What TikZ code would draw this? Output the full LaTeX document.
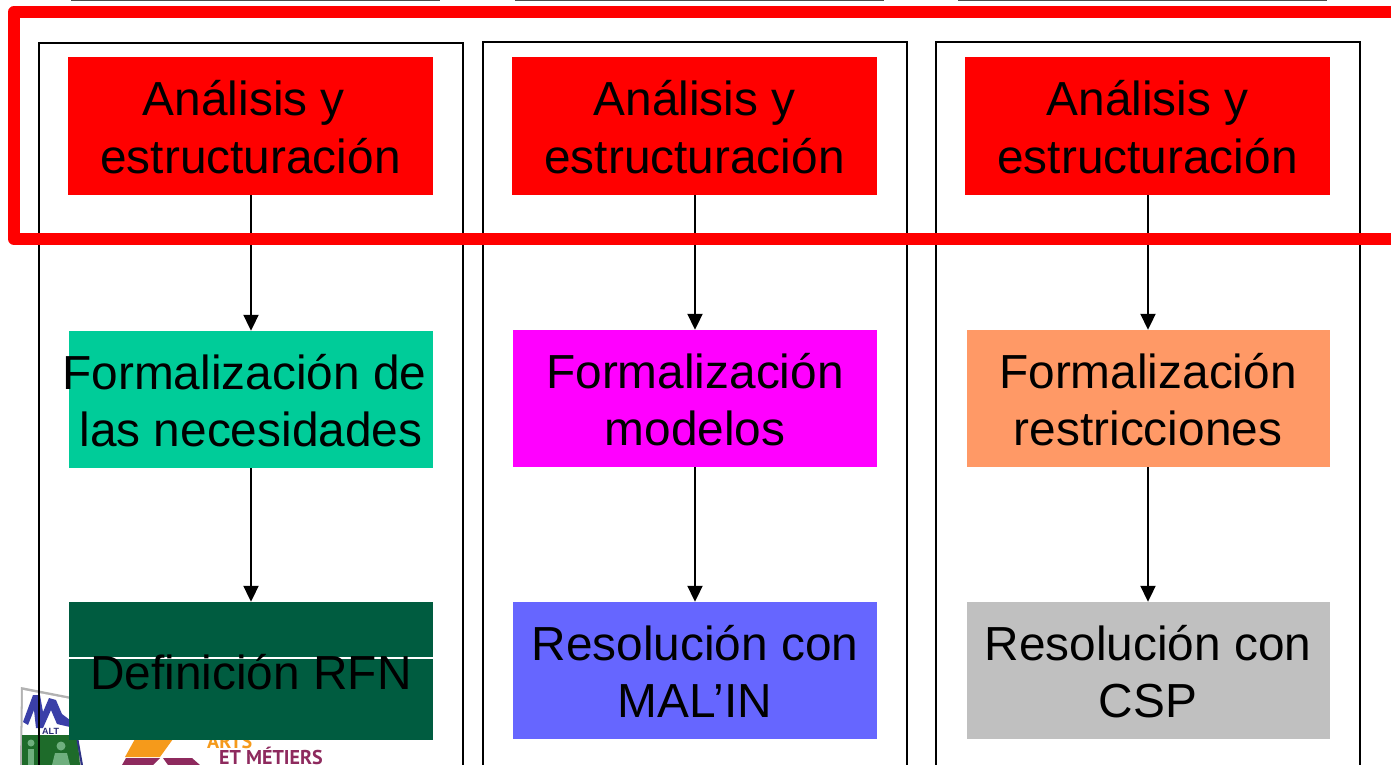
\documentclass[tikz,border=0pt]{standalone}
\usepackage{fontspec}
\setmainfont{Liberation Sans}
\newfontfamily\logofont{PT Sans}
\usetikzlibrary{arrows.meta}
\definecolor{cteal}{HTML}{00CC99}
\definecolor{cmag}{HTML}{FF00FF}
\definecolor{corange}{HTML}{FF9966}
\definecolor{cdark}{HTML}{005C40}
\definecolor{cblue}{HTML}{6666FF}
\definecolor{cgray}{HTML}{C0C0C0}
\definecolor{logoorange}{HTML}{F59A1B}
\definecolor{logopurple}{HTML}{8E2A5E}
\definecolor{logoblue}{HTML}{3A3FA8}
\definecolor{logogreen}{HTML}{1E6B2A}
\definecolor{logolight}{HTML}{6FAF7E}
\newcommand{\stext}[1]{\makebox[0pt][c]{\raisebox{-7pt}[\height][\depth]{\begin{tabular}{@{}c@{}}#1\end{tabular}}}}
\tikzset{
  x=1pt,y=-1pt,
  stagebox/.style={draw=none,inner sep=0pt,minimum width=#1,minimum height=138pt,
    font=\fontsize{47.8pt}{57.6pt}\selectfont,text=black},
  stagebox/.default=365pt,
  lowbox/.style={minimum height=137pt},
  flow/.style={draw=black,line width=2pt,-{Triangle[length=16pt,width=15pt]}},
  frameline/.style={draw=black,line width=1.8pt},
  topline/.style={draw=black!70,line width=1.8pt},
  logotext/.style={inner sep=0pt,anchor=base west,font=\logofont\bfseries\fontsize{20pt}{20pt}\selectfont},
}
\begin{document}
\begin{tikzpicture}
\useasboundingbox (0,0) rectangle (1391,765);
\fill[white] (0,0) rectangle (1391,765);
% top rules
\draw[topline] (71,0) -- (440,0);
\draw[topline] (515,0) -- (884,0);
\draw[topline] (958,0) -- (1327,0);
% left logo
\fill[black!30] (21,687) -- (72,697) -- (82,765) -- (20,765) -- cycle;
\fill[white] (23,690) -- (70,699) -- (80,765) -- (22,765) -- cycle;
\fill[logoblue] (23,722) -- (33,695) -- (40,695) -- (43,712) -- (49,698) -- (56,700) -- (62,714) -- (70,720) -- (70,727) -- (57,724) -- (51,710) -- (43,728) -- (36,728) -- (34,710) -- (28,725) -- cycle;
\fill[logogreen] (22,735) -- (77,735) -- (80,765) -- (22,765) -- cycle;
\draw[logoblue!80!black,line width=2pt] (77,737) -- (82,765);
\node[inner sep=0pt,anchor=base west,text=logoblue!70!black,font=\bfseries\fontsize{9pt}{9pt}\selectfont] (maltext) at (42,734) {ALT};
\fill[logolight] (31,743) circle (3.5pt);
\fill[logolight] (28,749) rectangle (34,765);
\fill[logolight] (61,746) circle (4.5pt);
\fill[logolight] (55,753) -- (67,753) -- (70,765) -- (52,765) -- cycle;
% right logo
\fill[logoorange] (135,739) -- (173,739) -- (160,757) -- (125,757) -- cycle;
\fill[logopurple] (126,758) -- (160,758) -- (153,765) -- (122,765) -- cycle;
\fill[logopurple] (163,758) -- (192,758) -- (200,765) -- (168,765) -- cycle;
\node[logotext,text=logoorange] (arts) at (207,748) {ARTS};
\node[logotext,text=logopurple] (metiers) at (219,764.5) {ET MÉTIERS};
% frames
\draw[frameline] (39,775) -- (39,43) -- (463,43) -- (463,775);
\draw[frameline] (483,775) -- (483,42) -- (907,42) -- (907,775);
\draw[frameline] (936,775) -- (936,42) -- (1360,42) -- (1360,775);
% row 1
\node[stagebox,fill=red] (a1) at (250.5,126) {\stext{Análisis y\hspace*{13.3pt}\\estructuración}};
\node[stagebox,fill=red] (a2) at (694.5,126) {\stext{Análisis y\\estructuración}};
\node[stagebox,fill=red] (a3) at (1147.5,126) {\stext{Análisis y\\estructuración}};
% row 2
\node[stagebox=364pt,lowbox,fill=cteal] (b1) at (251,399.5) {\stext{Formalización de\hspace*{13.3pt}\\las necesidades}};
\node[stagebox=364pt,lowbox,fill=cmag] (b2) at (695,398.5) {\stext{Formalización\\modelos}};
\node[stagebox=363pt,lowbox,fill=corange] (b3) at (1148,398.5) {\stext{Formalización\\restricciones}};
% row 3
\node[stagebox=364pt,fill=cdark,
  path picture={\draw[white,line width=1.2pt]
    ([yshift=13pt]path picture bounding box.west) -- ([yshift=13pt]path picture bounding box.east);}]
  (c1) at (251,671) {\stext{Definición RFN}};
\node[stagebox=364pt,lowbox,fill=cblue] (c2) at (695,670.5) {\stext{Resolución con\\MAL’IN}};
\node[stagebox=363pt,lowbox,fill=cgray] (c3) at (1148,670.5) {\stext{Resolución con\\CSP}};
% connectors
\foreach \i in {1,2,3}{
  \draw[flow] (b\i |- a\i.south) -- (b\i.north);
  \draw[flow] (b\i.south) -- (c\i.north);
}
% highlight
\draw[red,line width=12pt,line join=round] (1400,12) -- (14,12) -- (14,239) -- (1400,239);
\end{tikzpicture}
\end{document}
